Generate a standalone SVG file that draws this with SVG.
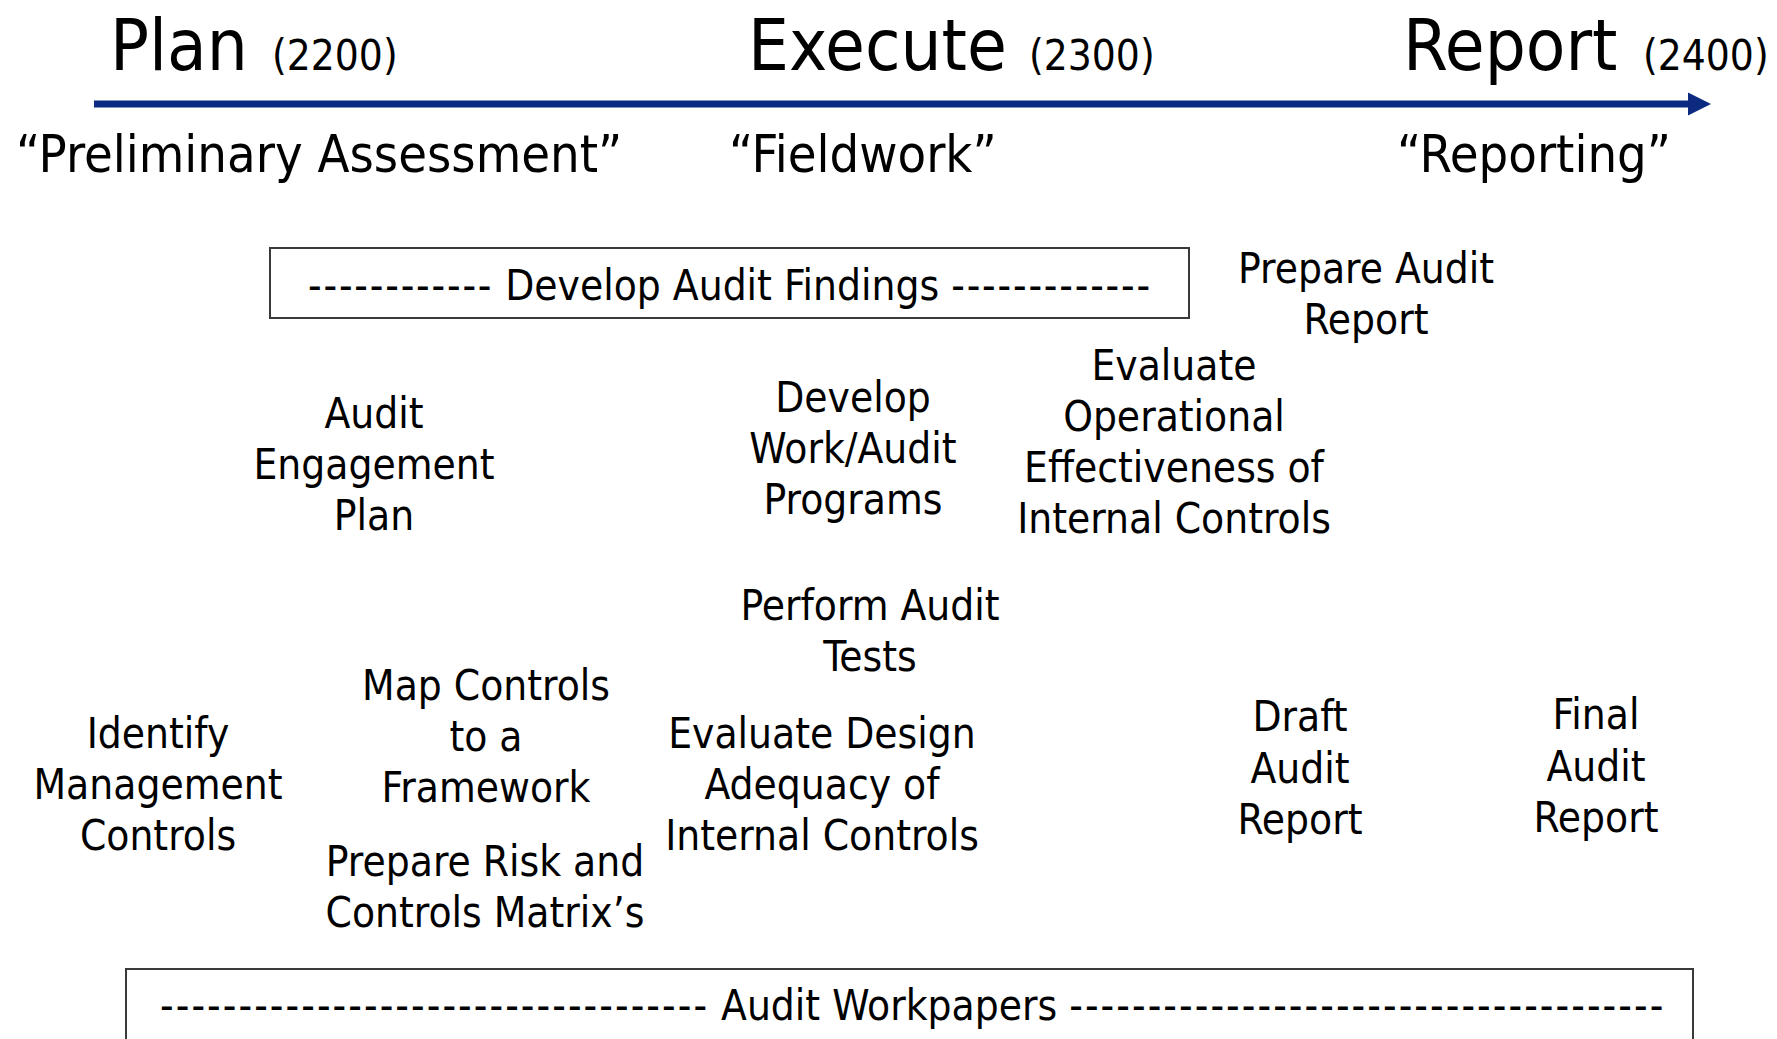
<svg xmlns="http://www.w3.org/2000/svg" width="1777" height="1039" viewBox="0 0 1777 1039">
  <style>
    text { font-family: "DejaVu Sans Condensed", "DejaVu Sans", sans-serif; font-stretch: condensed; fill: #000; }
    .phase { font-size: 72px; }
    .code { font-size: 42px; }
    .alias { font-size: 52px; }
    .step { font-size: 42px; text-anchor: middle; }
    .band { font-size: 42px; }
    .dash { letter-spacing: 1.8px; }
    .dash-wide { letter-spacing: 2.05px; }
    .frame { fill: #fff; stroke: #3a3a3a; stroke-width: 2; }
  </style>
  <defs>
    <marker id="head" viewBox="0 0 10 10" refX="0" refY="5" markerWidth="3.3" markerHeight="3.6" orient="auto" markerUnits="strokeWidth">
      <path d="M0,0 L10,5 L0,10 Z" fill="#0b2a80"/>
    </marker>
  </defs>

  <!-- timeline -->
  <g id="connectors">
    <line x1="94" y1="104" x2="1688" y2="104" stroke="#0b2a80" stroke-width="7" marker-end="url(#head)"/>
  </g>

  <!-- phase headings -->
  <g id="phase-plan">
    <text class="phase" x="110" y="70">Plan</text>
    <text class="code" x="272" y="70">(2200)</text>
    <text class="alias" x="16" y="172">“Preliminary Assessment”</text>
  </g>
  <g id="phase-execute">
    <text class="phase" x="748" y="70">Execute</text>
    <text class="code" x="1029" y="70">(2300)</text>
    <text class="alias" x="729" y="172">“Fieldwork”</text>
  </g>
  <g id="phase-report">
    <text class="phase" x="1403" y="70">Report</text>
    <text class="code" x="1643" y="70">(2400)</text>
    <text class="alias" x="1397" y="172">“Reporting”</text>
  </g>

  <!-- findings band -->
  <g id="develop-findings">
    <rect class="frame" x="270" y="248" width="919" height="70"/>
    <text class="band" x="308" y="300"><tspan class="dash">------------</tspan> Develop Audit Findings <tspan class="dash">-------------</tspan></text>
  </g>

  <g id="prepare-report">
    <text class="step" x="1366" y="283">Prepare Audit</text>
    <text class="step" x="1366" y="334">Report</text>
  </g>

  <g id="engagement-plan">
    <text class="step" x="374" y="428">Audit</text>
    <text class="step" x="374" y="479">Engagement</text>
    <text class="step" x="374" y="530">Plan</text>
  </g>

  <g id="work-programs">
    <text class="step" x="853" y="412">Develop</text>
    <text class="step" x="853" y="463">Work/Audit</text>
    <text class="step" x="853" y="514">Programs</text>
  </g>

  <g id="operational-effectiveness">
    <text class="step" x="1174" y="380">Evaluate</text>
    <text class="step" x="1174" y="431">Operational</text>
    <text class="step" x="1174" y="482">Effectiveness of</text>
    <text class="step" x="1174" y="533">Internal Controls</text>
  </g>

  <g id="audit-tests">
    <text class="step" x="870" y="620">Perform Audit</text>
    <text class="step" x="870" y="671">Tests</text>
  </g>

  <g id="management-controls">
    <text class="step" x="158" y="748">Identify</text>
    <text class="step" x="158" y="799">Management</text>
    <text class="step" x="158" y="850">Controls</text>
  </g>

  <g id="map-controls">
    <text class="step" x="486" y="700">Map Controls</text>
    <text class="step" x="486" y="751">to a</text>
    <text class="step" x="486" y="802">Framework</text>
  </g>

  <g id="design-adequacy">
    <text class="step" x="822" y="748">Evaluate Design</text>
    <text class="step" x="822" y="799">Adequacy of</text>
    <text class="step" x="822" y="850">Internal Controls</text>
  </g>

  <g id="risk-matrix">
    <text class="step" x="485" y="876">Prepare Risk and</text>
    <text class="step" x="485" y="927">Controls Matrix’s</text>
  </g>

  <g id="draft-report">
    <text class="step" x="1300" y="731">Draft</text>
    <text class="step" x="1300" y="783">Audit</text>
    <text class="step" x="1300" y="834">Report</text>
  </g>

  <g id="final-report">
    <text class="step" x="1596" y="729">Final</text>
    <text class="step" x="1596" y="781">Audit</text>
    <text class="step" x="1596" y="832">Report</text>
  </g>

  <!-- workpapers band -->
  <g id="audit-workpapers">
    <rect class="frame" x="126" y="969" width="1567" height="80"/>
    <text class="band" x="160" y="1020"><tspan class="dash-wide">-----------------------------------</tspan> Audit Workpapers <tspan class="dash-wide">--------------------------------------</tspan></text>
  </g>
</svg>
